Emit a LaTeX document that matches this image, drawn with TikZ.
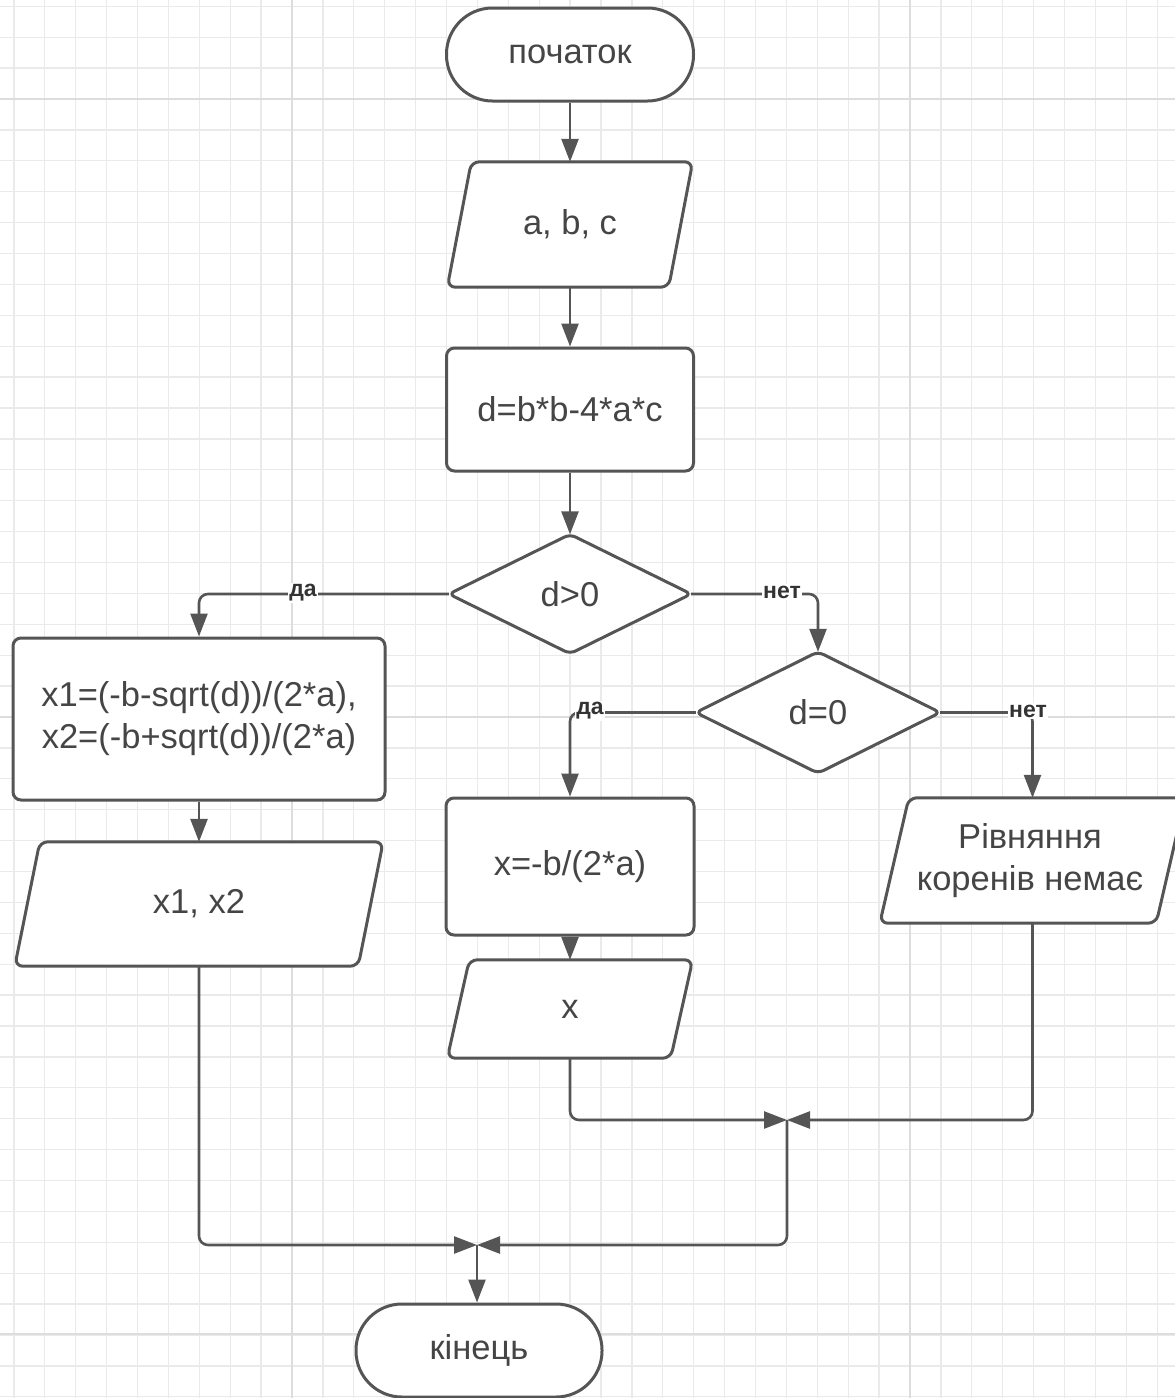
\documentclass[tikz,border=0pt]{standalone}
\usepackage{fontspec}
\setmainfont{Liberation Sans}
\usetikzlibrary{arrows.meta}
\definecolor{gridminor}{HTML}{EAEAEA}
\definecolor{gridmajor}{HTML}{DDDDDD}
\definecolor{ink}{HTML}{555555}
\definecolor{txtc}{HTML}{454545}
\definecolor{lblc}{HTML}{333333}
\tikzset{
  boxtext/.style={inner sep=0pt, align=center, text=txtc, font=\fontsize{34.5}{42}\selectfont},
  shapeline/.style={draw=ink, line width=3pt, fill=white, rounded corners=8pt},
  term/.style={boxtext, shapeline, rounded corners=46pt},
  procbox/.style={boxtext, shapeline},
  conn/.style={draw=ink, line width=2.6pt, rounded corners=9pt, -{Triangle[length=23pt,width=17pt]}},
  lbl/.style={fill=white, inner sep=1.5pt, text=lblc, font=\bfseries\fontsize{23}{26}\selectfont}
}
\newcommand{\paradraw}[2]{%
  \draw[shapeline] ([xshift=#2]#1.north west) -- (#1.north east) -- ([xshift=-#2]#1.south east) -- (#1.south west) -- cycle;}
\newcommand{\diadraw}[1]{%
  \draw[shapeline, rounded corners=6pt] (#1.west) -- (#1.north) -- (#1.east) -- (#1.south) -- cycle;}
\begin{document}
\begin{tikzpicture}[x=1pt,y=-1pt]
\useasboundingbox (0,0) rectangle (1175,1398);
\fill[white] (0,0) rectangle (1175,1398);
% grid
\foreach \i in {0,...,37} \draw[gridminor, line width=1.3pt] ({13.9+30.9*\i},0) -- ({13.9+30.9*\i},1398);
\foreach \k in {0,...,45} \draw[gridminor, line width=1.3pt] (0,{6.3+30.9*\k}) -- (1175,{6.3+30.9*\k});
\foreach \x in {292,910} \draw[gridmajor, line width=2.2pt] (\x,0) -- (\x,1398);
\foreach \y in {99,717,1334} \draw[gridmajor, line width=2.2pt] (0,\y) -- (1175,\y);

% nodes
\node[term, minimum width=247pt, minimum height=93pt] (start) at (570,54.5) {початок};

\node[boxtext, minimum width=245pt, minimum height=125pt] (abc) at (570,224.5) {};
\paradraw{abc}{24pt}
\node[boxtext] at (abc) {a, b, c};

\node[procbox, minimum width=247pt, minimum height=123pt] (dcalc) at (570,409.5) {d=b*b-4*a*c};

\node[boxtext, minimum width=242pt, minimum height=119pt] (dpos) at (570,594) {};
\diadraw{dpos}
\node[boxtext] at (dpos) {d>0};

\node[procbox, minimum width=372pt, minimum height=162pt] (xtwo) at (199,719) {x1=(-b-sqrt(d))/(2*a),\\x2=(-b+sqrt(d))/(2*a)};

\node[boxtext, minimum width=368pt, minimum height=124pt] (xout2) at (199,904) {};
\paradraw{xout2}{25pt}
\node[boxtext] at (xout2) {x1, x2};

\node[boxtext, minimum width=244pt, minimum height=121pt] (dzero) at (818,712.5) {};
\diadraw{dzero}
\node[boxtext] at (dzero) {d=0};

\node[procbox, minimum width=248pt, minimum height=137pt] (xone) at (570,866.5) {x=-b/(2*a)};

\node[boxtext, minimum width=245pt, minimum height=98pt] (xout1) at (570,1009) {};
\paradraw{xout1}{22pt}
\node[boxtext] at (xout1) {x};

\node[boxtext, minimum width=305pt, minimum height=125pt] (noroot) at (1032.5,860.5) {};
\paradraw{noroot}{29pt}
\node[boxtext] at (1030,860.5) {Рівняння\\коренів немає};

\node[term, minimum width=246pt, minimum height=93pt] (finish) at (479,1350.5) {кінець};

\coordinate (j1) at (787,1120);
\coordinate (j2) at (477,1245);

% connectors
\draw[conn] (start.south) -- (abc.north);
\draw[conn] (abc.south) -- (dcalc.north);
\draw[conn] (dcalc.south) -- (dpos.north);
\draw[conn] (dpos.west) -| (xtwo.north);
\draw[conn] (dpos.east) -| (dzero.north);
\draw[conn] (dzero.west) -| (xone.north);
\draw[conn] (dzero.east) -| (noroot.north);
\draw[conn] (xtwo.south) -- (xout2.north);
\draw[conn] (xone.south) -- (xout1.north);
\draw[conn] (xout1.south) |- (j1);
\draw[conn] (noroot.south) |- (j1);
\draw[conn] (j1) |- (j2);
\draw[conn] (xout2.south) |- (j2);
\draw[conn] (j2) -- (j2 |- finish.north);

% labels
\node[lbl] (lyes1) at (303,593) {да};
\node[lbl] (lno1) at (782,592) {нет};
\node[lbl] (lyes2) at (590,711) {да};
\node[lbl] (lno2) at (1028,711) {нет};
\end{tikzpicture}
\end{document}
